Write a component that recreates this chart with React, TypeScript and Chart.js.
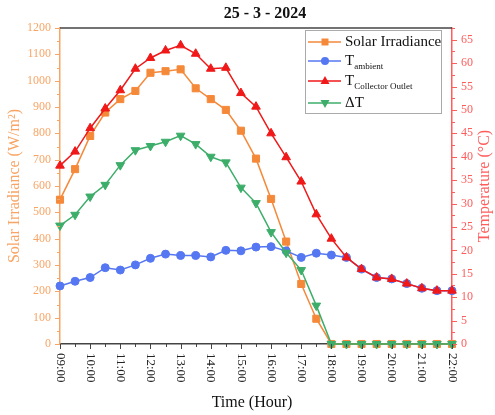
import React, { useEffect, useRef } from "react";
import { Chart, registerables } from "chart.js";
Chart.register(...registerables);

const times = [
  "09:00", "09:30", "10:00", "10:30", "11:00", "11:30", "12:00", "12:30", "13:00",
  "13:30", "14:00", "14:30", "15:00", "15:30", "16:00", "16:30", "17:00", "17:30",
  "18:00", "18:30", "19:00", "19:30", "20:00", "20:30", "21:00", "21:30", "22:00",
];
const irradiance = [548, 664, 790, 879, 930, 961, 1030, 1036, 1043, 971, 930, 889, 810, 704, 551, 389, 228, 96, 0, 0, 0, 0, 0, 0, 0, 0, 0];
const tAmbient = [12.4, 13.4, 14.2, 16.3, 15.8, 16.9, 18.3, 19.2, 18.9, 18.9, 18.6, 20.0, 19.9, 20.7, 20.8, 19.9, 18.5, 19.4, 19.0, 18.5, 16.0, 14.2, 13.9, 12.9, 11.9, 11.4, 11.4];
const tCollector = [38.1, 41.1, 46.1, 50.3, 54.2, 58.8, 61.1, 62.7, 63.8, 62.0, 58.8, 59.0, 53.6, 50.7, 45.0, 39.9, 34.7, 27.7, 22.5, 18.5, 16.0, 14.2, 13.9, 12.9, 11.9, 11.4, 11.4];
const deltaT = [25.3, 27.6, 31.5, 34.0, 38.2, 41.4, 42.3, 43.2, 44.5, 42.7, 40.0, 38.8, 33.4, 30.1, 23.9, 19.5, 15.8, 8.2, 0, 0, 0, 0, 0, 0, 0, 0, 0];

const leftTicks = [0, 100, 200, 300, 400, 500, 600, 700, 800, 900, 1000, 1100, 1200];
const rightTicks = [0, 5, 10, 15, 20, 25, 30, 35, 40, 45, 50, 55, 60, 65];

const titleText = "25 - 3 - 2024";
const xTitle = "Time (Hour)";
const yLeftTitle = "Solar Irradiance (W/m²)";
const yRightTitle = "Temperature (°C)";

const ORANGE = "#F5893A";
const BLUE = "#5577F2";
const RED = "#F01818";
const GREEN = "#3DAE6A";
const LEFT_AXIS = "#F7A566";
const RIGHT_AXIS = "#FF5C5C";
const SERIF = '"Liberation Serif", "Times New Roman", serif';

function drawMarker(ctx: CanvasRenderingContext2D, kind: string, x: number, y: number, color: string) {
  ctx.fillStyle = color;
  ctx.beginPath();
  if (kind === "rect") {
    ctx.rect(x - 3.5, y - 3.5, 7, 7);
  } else if (kind === "circle") {
    ctx.arc(x, y, 4, 0, Math.PI * 2);
  } else if (kind === "up") {
    ctx.moveTo(x, y - 5);
    ctx.lineTo(x + 4.5, y + 3);
    ctx.lineTo(x - 4.5, y + 3);
    ctx.closePath();
  } else {
    ctx.moveTo(x, y + 5);
    ctx.lineTo(x + 4.5, y - 3);
    ctx.lineTo(x - 4.5, y - 3);
    ctx.closePath();
  }
  ctx.fill();
}

export default function App() {
  const ref = useRef<HTMLCanvasElement>(null);
  useEffect(() => {
    const decor = {
      id: "decor",
      afterDraw(chart: any) {
        const { ctx, chartArea: ca, scales } = chart;
        const xs = scales.x, yl = scales.y, yr = scales.y1;
        ctx.save();
        // top border
        ctx.strokeStyle = "#444";
        ctx.lineWidth = 1.5;
        ctx.beginPath();
        ctx.moveTo(ca.left, ca.top);
        ctx.lineTo(ca.right, ca.top);
        ctx.stroke();

        // left ticks
        ctx.strokeStyle = LEFT_AXIS;
        ctx.lineWidth = 1;
        for (let v = 0; v <= 1200; v += 50) {
          const y = Math.round(yl.getPixelForValue(v)) + 0.5;
          const len = v % 100 === 0 ? 5 : 3;
          ctx.beginPath();
          ctx.moveTo(ca.left - len, y);
          ctx.lineTo(ca.left, y);
          ctx.stroke();
        }
        ctx.fillStyle = LEFT_AXIS;
        ctx.font = `12px ${SERIF}`;
        ctx.textAlign = "right";
        ctx.textBaseline = "middle";
        leftTicks.forEach((v) => {
          ctx.fillText(String(v), ca.left - 9, yl.getPixelForValue(v));
        });

        // right ticks
        ctx.strokeStyle = RIGHT_AXIS;
        for (let v = 0; v <= 67.5; v += 2.5) {
          const y = Math.round(yr.getPixelForValue(v)) + 0.5;
          const len = v % 5 === 0 ? 5 : 3;
          ctx.beginPath();
          ctx.moveTo(ca.right, y);
          ctx.lineTo(ca.right + len, y);
          ctx.stroke();
        }
        ctx.fillStyle = RIGHT_AXIS;
        ctx.textAlign = "left";
        rightTicks.forEach((v) => {
          ctx.fillText(String(v), ca.right + 9, yr.getPixelForValue(v));
        });

        // x ticks
        ctx.strokeStyle = "#444";
        times.forEach((t, i) => {
          const px = Math.round(xs.getPixelForValue(i)) + 0.5;
          const len = i % 2 === 0 ? 5 : 3;
          ctx.beginPath();
          ctx.moveTo(px, ca.bottom);
          ctx.lineTo(px, ca.bottom + len);
          ctx.stroke();
        });
        ctx.fillStyle = "#222";
        ctx.font = `13px ${SERIF}`;
        times.forEach((t, i) => {
          if (i % 2 !== 0) return;
          const px = xs.getPixelForValue(i);
          ctx.save();
          ctx.translate(px, ca.bottom + 9);
          ctx.rotate(Math.PI / 2);
          ctx.textAlign = "left";
          ctx.textBaseline = "middle";
          ctx.fillText(t, 0, 0);
          ctx.restore();
        });

        // title
        ctx.fillStyle = "#111";
        ctx.font = `bold 16px ${SERIF}`;
        ctx.textAlign = "center";
        ctx.textBaseline = "middle";
        ctx.fillText(titleText, 265, 14);

        // x title
        ctx.font = `16px ${SERIF}`;
        ctx.fillStyle = "#111";
        ctx.fillText(xTitle, 252, 403);

        // y titles
        ctx.save();
        ctx.translate(15, 186);
        ctx.rotate(-Math.PI / 2);
        ctx.fillStyle = LEFT_AXIS;
        ctx.fillText(yLeftTitle, 0, 0);
        ctx.restore();
        ctx.save();
        ctx.translate(485, 186);
        ctx.rotate(-Math.PI / 2);
        ctx.fillStyle = RIGHT_AXIS;
        ctx.fillText(yRightTitle, 0, 0);
        ctx.restore();

        // legend
        ctx.fillStyle = "#fff";
        ctx.fillRect(305, 30, 137, 84);
        ctx.strokeStyle = "#aaa";
        ctx.lineWidth = 1;
        ctx.strokeRect(305.5, 30.5, 136, 83);
        const rows = [
          { main: "Solar Irradiance", sub: "", color: ORANGE, kind: "rect", y: 42 },
          { main: "T", sub: "ambient", color: BLUE, kind: "circle", y: 61 },
          { main: "T", sub: "Collector Outlet", color: RED, kind: "up", y: 81 },
          { main: "ΔT", sub: "", color: GREEN, kind: "down", y: 103 },
        ];
        rows.forEach((r) => {
          ctx.strokeStyle = r.color;
          ctx.lineWidth = 1.5;
          ctx.beginPath();
          ctx.moveTo(308, r.y);
          ctx.lineTo(341, r.y);
          ctx.stroke();
          drawMarker(ctx, r.kind, 325, r.y, r.color);
          ctx.fillStyle = "#111";
          ctx.font = `15px ${SERIF}`;
          ctx.textAlign = "left";
          ctx.textBaseline = "middle";
          ctx.fillText(r.main, 345, r.y);
          if (r.sub) {
            const w = ctx.measureText(r.main).width;
            ctx.font = `9px ${SERIF}`;
            ctx.fillText(r.sub, 345 + w, r.y + 6);
          }
        });
        ctx.restore();
      },
    };

    const chart = new Chart(ref.current as HTMLCanvasElement, {
      type: "line",
      data: {
        labels: times,
        datasets: [
          {
            label: "Solar Irradiance", data: irradiance, yAxisID: "y",
            borderColor: ORANGE, backgroundColor: ORANGE, pointBackgroundColor: ORANGE, pointBorderColor: ORANGE,
            pointStyle: "rect", pointRadius: 5, borderWidth: 1.5, pointBorderWidth: 1, order: 4, clip: false as any,
          },
          {
            label: "T ambient", data: tAmbient, yAxisID: "y1",
            borderColor: BLUE, backgroundColor: BLUE, pointBackgroundColor: BLUE, pointBorderColor: BLUE,
            pointStyle: "circle", pointRadius: 4, borderWidth: 1.5, pointBorderWidth: 1, order: 3, clip: false as any,
          },
          {
            label: "T Collector Outlet", data: tCollector, yAxisID: "y1",
            borderColor: RED, backgroundColor: RED, pointBackgroundColor: RED, pointBorderColor: RED,
            pointStyle: "triangle", pointRadius: 5, borderWidth: 1.5, pointBorderWidth: 1, order: 2, clip: false as any,
          },
          {
            label: "ΔT", data: deltaT, yAxisID: "y1",
            borderColor: GREEN, backgroundColor: GREEN, pointBackgroundColor: GREEN, pointBorderColor: GREEN,
            pointStyle: "triangle", pointRotation: 180, pointRadius: 5, borderWidth: 1.5, pointBorderWidth: 1, order: 1, clip: false as any,
          },
        ],
      },
      options: {
        responsive: false,
        animation: false,
        devicePixelRatio: 1,
        layout: { padding: { top: 28, left: 0, right: 0, bottom: 0 } },
        plugins: { legend: { display: false }, tooltip: { enabled: false }, title: { display: false } },
        scales: {
          x: {
            type: "category", offset: false,
            grid: { display: false },
            border: { display: true, color: "#444", width: 1.5 },
            ticks: { display: false },
            afterFit: (s: any) => { s.height = 71; },
          },
          y: {
            position: "left", min: 0, max: 1200,
            grid: { display: false },
            border: { display: true, color: LEFT_AXIS, width: 1.5 },
            ticks: { display: false },
            afterFit: (s: any) => { s.width = 60; },
          },
          y1: {
            position: "right", min: 0, max: 67.5,
            grid: { display: false },
            border: { display: true, color: RIGHT_AXIS, width: 1.5 },
            ticks: { display: false },
            afterFit: (s: any) => { s.width = 43; },
          },
        },
      } as any,
      plugins: [decor],
    });
    return () => chart.destroy();
  }, []);
  return (
    <div style={{ position: "fixed", left: 0, top: 0, width: 495, height: 415, background: "#fff" }}>
      <canvas ref={ref} width={495} height={415} style={{ display: "block" }} />
    </div>
  );
}
